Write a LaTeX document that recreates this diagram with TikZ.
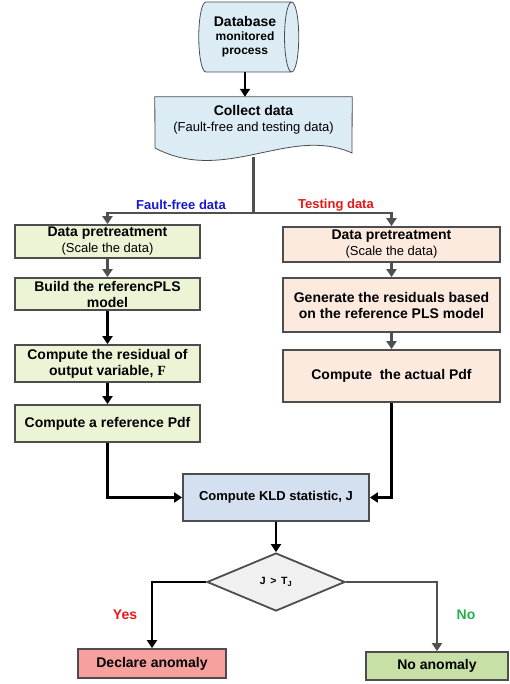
\documentclass[tikz,border=0pt]{standalone}
\usepackage{fontspec}
\setmainfont{Liberation Sans}
\newfontfamily\serifbold{Liberation Serif}
\usetikzlibrary{shapes.geometric, arrows.meta}

\definecolor{dbblue}{HTML}{DCECF5}
\definecolor{leftgreen}{HTML}{EBF5D6}
\definecolor{rightpeach}{HTML}{FDEADF}
\definecolor{kldblue}{HTML}{D4DFF0}
\definecolor{declred}{HTML}{F7A19E}
\definecolor{nogreen}{HTML}{C6E0A6}
\definecolor{diagray}{HTML}{F0F0F0}
\definecolor{boxgray}{HTML}{4D4D4D}
\definecolor{linegray}{HTML}{505050}
\definecolor{ffblue}{HTML}{1818D0}
\definecolor{testred}{HTML}{E81818}
\definecolor{nolabel}{HTML}{22B04C}

\newcommand{\subline}[1]{{\fontsize{13}{15}\selectfont\mdseries #1}}

\begin{document}
\begin{tikzpicture}[x=1pt, y=-1pt,
  box/.style={draw=boxgray, line width=1.8pt, align=center, inner sep=1pt,
    font=\fontsize{14}{16}\selectfont\bfseries},
  leftbox/.style={box, fill=leftgreen, minimum width=185pt},
  rightbox/.style={box, fill=rightpeach, minimum width=217pt},
  arrblack/.style={line width=2.2pt, -{Triangle[length=8pt,width=10pt]}},
  arrgray/.style={arrblack, draw=linegray, -{Triangle[length=8pt,width=10pt,color=linegray]}},
  lab/.style={font=\fontsize{13}{15}\selectfont\bfseries, inner sep=0pt}]
  \useasboundingbox (0,0) rectangle (510,684);

  % ---------- source ----------
  \node[cylinder, draw=boxgray, fill=dbblue, line width=0.8pt, aspect=0.35,
    minimum width=70pt, minimum height=100pt, align=center, inner sep=0pt,
    font=\fontsize{12}{14}\selectfont\bfseries]
    (db) at (245,37) {{\fontsize{14}{15}\selectfont Database}\\monitored\\process};

  % document shape, drawn by hand
  \node[align=center, minimum width=197pt, minimum height=60pt, inner sep=0pt,
    font=\fontsize{14}{16}\selectfont\bfseries] (collect) at (253.5,127) {};
  \draw[draw=boxgray, fill=dbblue, line width=0.8pt]
    (collect.north west) -- (collect.north east) -- (352,153)
    .. controls (290,125) and (225,185) .. (155,148) -- cycle;
  \node[align=center, font=\fontsize{14}{16}\selectfont\bfseries] (collecttxt) at (253.5,120)
    {Collect data\\\subline{(Fault-free and testing data)}};

  \draw[arrblack] (db.south) -- (db.south |- collect.north);

  % ---------- left branch: fault-free data ----------
  \node[leftbox, minimum height=33pt] (pre1) at (107.5,241.5)
    {Data pretreatment\\\subline{(Scale the data)}};
  \node[leftbox, minimum height=32pt] (build) at (107.5,294)
    {Build the referencPLS\\model};
  \node[leftbox, minimum height=37pt] (resid) at (107.5,363.5)
    {Compute the residual of\\output variable, {\serifbold F}};
  \node[leftbox, minimum height=37pt] (refpdf) at (107.5,423.5)
    {Compute a reference Pdf};

  % ---------- right branch: testing data ----------
  \node[rightbox, minimum height=35pt] (pre2) at (391.5,244.5)
    {Data pretreatment\\\subline{(Scale the data)}};
  \node[rightbox, minimum height=54pt] (gen) at (391.5,305)
    {Generate the residuals based\\on the reference PLS model};
  \node[rightbox, minimum height=52pt] (actpdf) at (391.5,376)
    {Compute\ \ the actual Pdf};

  % ---------- decision ----------
  \node[box, fill=kldblue, minimum width=186pt, minimum height=47pt,
    font=\fontsize{13}{15}\selectfont\bfseries] (kld) at (276,497.5)
    {Compute KLD statistic, J};
  \node[diamond, draw=boxgray, fill=diagray, line width=1.8pt, inner sep=0pt,
    minimum width=138pt, minimum height=58pt,
    font=\fontsize{10.5}{12}\selectfont\bfseries] (dec) at (276,582)
    {J \,>\, T\textsubscript{J}};
  \node[box, fill=declred, minimum width=148pt, minimum height=29pt] (declare) at (152,663.5)
    {Declare anomaly};
  \node[box, fill=nogreen, minimum width=142pt, minimum height=28pt] (noanom) at (437,666)
    {No anomaly};

  % split of the data
  \coordinate (split) at (253.5,213);
  \draw[draw=linegray, line width=2.2pt] (collect.south) -- (split);
  \draw[arrgray] (split) -| (pre1.north);
  \draw[arrgray] (split) -| (pre2.north);
  \node[lab, text=ffblue] (fflabel) at (181,205) {Fault-free data};
  \node[lab, text=testred] (testlabel) at (336,205) {Testing data};

  % column arrows
  \draw[arrgray] (pre1) -- (build);
  \draw[arrblack] (build) -- (resid);
  \draw[arrblack] (resid) -- (refpdf);
  \draw[arrgray] (pre2) -- (gen);
  \draw[arrgray] (gen) -- (actpdf);

  % into the statistic
  \draw[arrblack] (refpdf.south) |- (kld.west);
  \draw[arrblack] (actpdf.south) |- (kld.east);
  \draw[arrblack] (kld) -- (dec);

  % outcomes
  \draw[arrblack] (dec.west) -| (declare.north);
  \draw[arrgray] (dec.east) -| (noanom.north);
  \node[lab, font=\fontsize{14}{16}\selectfont\bfseries, text=testred] (yes) at (125,615) {Yes};
  \node[lab, font=\fontsize{14}{16}\selectfont\bfseries, text=nolabel] (no) at (466,615) {No};
\end{tikzpicture}
\end{document}
